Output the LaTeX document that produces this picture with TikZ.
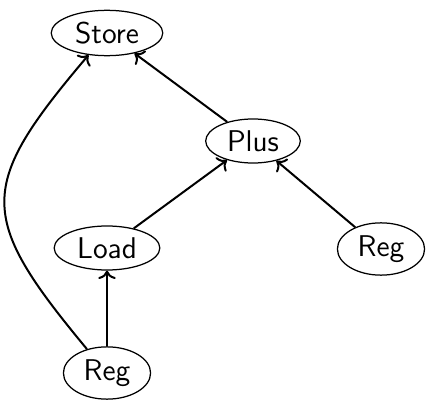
\documentclass[tikz,border=0pt]{standalone}
\usepackage{tikz}
\usetikzlibrary{arrows.meta,positioning,shapes.geometric}

\begin{document}
\begin{tikzpicture}[
  x=0.4pt, y=-0.4pt,
  op/.style={draw, ellipse, font=\sffamily\fontsize{12}{14}\selectfont, inner xsep=3pt, inner ysep=2pt, line width=0.5pt},
  arr/.style={->, thick}
]
  \useasboundingbox (0,0) rectangle (428,400);

  % operations
  \node[op] (store) at (107,33) {Store};
  \node[op] (plus) at (253,141) {Plus};
  \node[op] (load) at (107,248) {Load};
  \node[op] (regr) at (381,249) {Reg};
  \node[op] (regb) at (107,373) {Reg};

  % edges
  \draw[arr] (plus) -- (store);
  \draw[arr] (load) -- (plus);
  \draw[arr] (regr) -- (plus);
  \draw[arr] (regb) -- (load);
  \draw[arr] (regb) to[bend left=40, looseness=1.5] (store);
\end{tikzpicture}
\end{document}
